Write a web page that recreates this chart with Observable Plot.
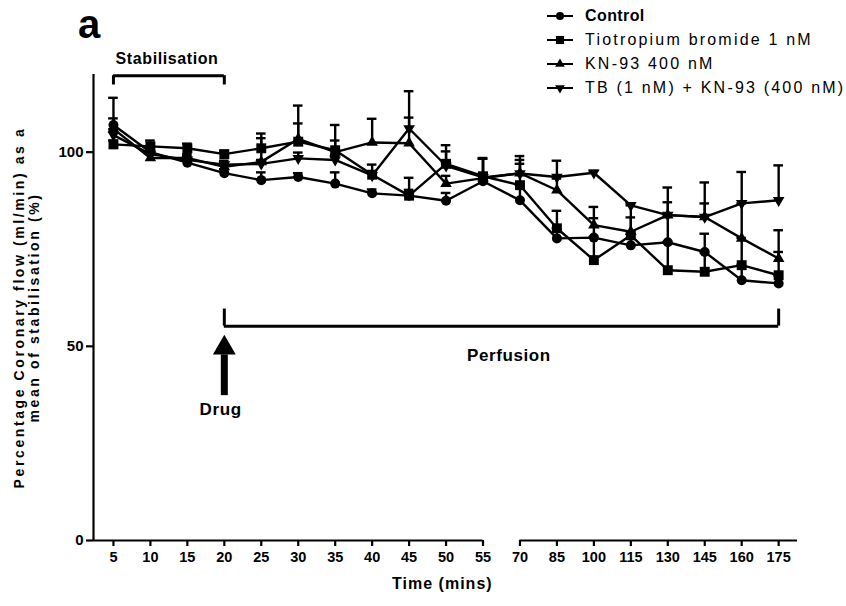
<!DOCTYPE html>
<html><head><meta charset="utf-8">
<script src="https://cdn.jsdelivr.net/npm/d3@7"></script>
<script src="https://cdn.jsdelivr.net/npm/@observablehq/plot@0.6"></script>
<style>
body{margin:0;background:#fff;font-family:"Liberation Sans",Arial,sans-serif;color:#000;}
#wrap{position:relative;width:846px;height:606px;}
#panel{position:absolute;left:78px;top:4px;font-size:40px;font-weight:bold;line-height:40px;}
#legend{position:absolute;left:547px;top:4px;font-size:16px;}
.row{display:flex;align-items:center;height:23.9px;}
.row span{margin-left:10px;letter-spacing:2.2px;white-space:nowrap;}
</style></head><body><div id="wrap"><div id="panel">a</div><div id="legend"></div></div>
<script>
// ---- data ----
const times = [5,10,15,20,25,30,35,40,45,50,55,70,85,100,115,130,145,160,175];
const seriesNames = ["Control","Tiotropium bromide 1 nM","KN-93 400 nM","TB (1 nM) + KN-93 (400 nM)"];
const controlVals = [107,100,97.3,94.6,92.8,93.6,91.9,89.4,88.8,87.5,92.5,87.6,77.8,78,76,76.8,74.3,67,66.2];
const controlErr  = [7,1,1,1,2,1,2.9,1,1.5,2,2,4,2.6,5,3,7,4.7,4,2];
const tiotVals = [102,101.5,101,99.5,101,102.7,100.5,94.2,88.8,97,93.8,91.5,80.4,72.2,78.6,69.6,69.2,70.9,68.3];
const tiotErr  = [1,1.5,1.2,0.8,3.8,4.7,2.5,2.6,4.6,4.8,4.5,5.5,4.5,6,4.6,7.3,5,7,6];
const knVals = [106,98.5,98.5,96.2,97.5,103.4,100,102.5,102.3,91.9,93.3,94.6,90.2,81.2,79.5,83.8,83.3,77.8,72.6];
const knErr  = [2.7,1,1,1,6.1,8.6,7,6.1,6.6,2,5,4.4,3,4.7,6.8,3.3,3.5,9,7.3];
const tbknVals = [104.4,99.5,98,96.8,97,98.4,98,94,106.1,96.5,93.5,94.5,93.6,94.7,86.3,83.8,83.3,86.8,87.6];
const tbknErr  = [1.5,1,1,1,1,1.5,1,1,9.6,3.7,5,3.5,4.2,0.5,0.5,7.1,8.9,8.1,9];
const yTicks = [0,50,100];
// annotations (in data units: time, percent)
const stabSpan = [5,20], stabLevel = [117.3,119.7], stabLabelY = 124;
const perfSpan = [20,175], perfLevel = [55.2,59.6], perfLabelY = 47.5;
const drugTime = 20, drugShaft = [37.3,47.8], drugHeadY = 49.6, drugLabelY = 33.6;
const xLabel = "Time (mins)";
const yLabel = "Percentage Coronary flow (ml/min) as a\nmean of stabilisation (%)";

// ---- build ----
const valsList = [controlVals,tiotVals,knVals,tbknVals];
const errList = [controlErr,tiotErr,knErr,tbknErr];
const symbols = ["circle","square","triangle","triangle"];
const rotations = [0,0,0,180];
const radii = [5,5.6,4.3,4.3];
const idx = t => times.indexOf(t);
const series = seriesNames.map((name,s) => times.map((t,i) => ({name, i, t, v: valsList[s][i], e: errList[s][i]})));
const all = series.flat();
const xDomain = [-0.54, 18.51];
const capHalf = 0.13;

const marks = [];
// error bars
marks.push(Plot.ruleX(all, {x:"i", y1:"v", y2: d=>d.v+d.e, stroke:"black", strokeWidth:2.4}));
marks.push(Plot.ruleY(all, {y: d=>d.v+d.e, x1: d=>d.i-capHalf, x2: d=>d.i+capHalf, stroke:"black", strokeWidth:2.4}));
// lines + dots
series.forEach((rows,s) => {
  marks.push(Plot.line(rows, {x:"i", y:"v", stroke:"black", strokeWidth:2.4}));
});
series.forEach((rows,s) => {
  marks.push(Plot.dot(rows, {x:"i", y:"v", symbol: symbols[s], rotate: rotations[s], r: radii[s], fill:"black", stroke:"none"}));
});
// axes lines
marks.push(Plot.ruleX([xDomain[0]], {y1:0, y2:120, stroke:"black", strokeWidth:2.2}));
marks.push(Plot.ruleY([0], {x1: xDomain[0], x2: idx(55), stroke:"black", strokeWidth:2.2}));
marks.push(Plot.ruleY([0], {x1: idx(70), x2: xDomain[1], stroke:"black", strokeWidth:2.2}));
marks.push(Plot.axisX({ticks: times.map((t,i)=>i), tickFormat: i => times[i], tickSize:6, tickPadding:5, strokeWidth:2.2, fontSize:14.5, fontWeight:"bold", label:null}));
marks.push(Plot.axisY({ticks: yTicks, tickSize:7, tickPadding:3, strokeWidth:2.2, fontSize:15, fontWeight:"bold", label:null}));
marks.push(Plot.text([xLabel], {frameAnchor:"bottom", x: d => 8.9, dy:48, text:d=>d, fontSize:16, fontWeight:"bold"}));
marks.push(Plot.text([yLabel], {frameAnchor:"left", textAnchor:"middle", dx:-67, rotate:-90, text:d=>d, fontSize:14, fontWeight:"bold", lineHeight:1.1}));
// stabilisation bracket
marks.push(Plot.ruleY([stabLevel[1]], {x1: idx(stabSpan[0]), x2: idx(stabSpan[1]), stroke:"black", strokeWidth:3}));
marks.push(Plot.ruleX([idx(stabSpan[0]), idx(stabSpan[1])], {x: d=>d, y1: stabLevel[0], y2: stabLevel[1], stroke:"black", strokeWidth:3}));
marks.push(Plot.text(["Stabilisation"], {x: (idx(stabSpan[0])+idx(stabSpan[1]))/2 - 0.05, y: stabLabelY, text:d=>d, fontSize:16, fontWeight:"bold"}));
// perfusion bracket
marks.push(Plot.ruleY([perfLevel[0]], {x1: idx(perfSpan[0]), x2: idx(perfSpan[1]), stroke:"black", strokeWidth:3}));
marks.push(Plot.ruleX([idx(perfSpan[0]), idx(perfSpan[1])], {x: d=>d, y1: perfLevel[0], y2: perfLevel[1], stroke:"black", strokeWidth:3}));
marks.push(Plot.text(["Perfusion"], {x: (idx(perfSpan[0])+idx(perfSpan[1]))/2 + 0.2, y: perfLabelY, text:d=>d, fontSize:17, fontWeight:"bold"}));
// drug arrow
marks.push(Plot.ruleX([idx(drugTime)], {x:d=>d, y1: drugShaft[0], y2: drugShaft[1], stroke:"black", strokeWidth:7}));
marks.push(Plot.dot([idx(drugTime)], {x:d=>d, y: drugHeadY, symbol:"triangle", r:8.5, fill:"black"}));
marks.push(Plot.text(["Drug"], {x: idx(drugTime) - 0.1, y: drugLabelY, text:d=>d, fontSize:17, fontWeight:"bold"}));

const chart = Plot.plot({
  width:846, height:606,
  marginLeft:93, marginRight:49, marginTop:74, marginBottom:66,
  x:{domain:xDomain, axis:null},
  y:{domain:[0,120], axis:null},
  style:{fontFamily:'"Liberation Sans", Arial, sans-serif', color:"black", background:"white", overflow:"visible"},
  marks
});
document.getElementById("wrap").prepend(chart);
// letter spacing tweaks
d3.select(chart).selectAll("text").each(function(){
  const t = this.textContent;
  if (t.startsWith("Percentage")) d3.select(this).attr("letter-spacing", "2.6px");
  else if (t === xLabel) d3.select(this).attr("letter-spacing", "1px");
  else if (t === "Stabilisation" || t === "Perfusion" || t === "Drug") d3.select(this).attr("letter-spacing", "0.6px");
});

// legend
const leg = d3.select("#legend");
seriesNames.forEach((name,s) => {
  const row = leg.append("div").attr("class","row");
  const svg = row.append("svg").attr("width",28).attr("height",20);
  svg.append("line").attr("x1",0).attr("x2",26).attr("y1",10).attr("y2",10).attr("stroke","black").attr("stroke-width",2);
  const symType = [d3.symbolCircle,d3.symbolSquare,d3.symbolTriangle,d3.symbolTriangle][s];
  svg.append("path").attr("d", d3.symbol(symType, Math.PI*[4,4.6,3.6,3.6][s]**2)())
    .attr("transform", `translate(13,10) rotate(${rotations[s]})`).attr("fill","black");
  const sp = row.append("span").text(name);
  if (s===0) sp.style("font-weight","bold").style("letter-spacing","0.4px");
});
</script>
</body></html>
